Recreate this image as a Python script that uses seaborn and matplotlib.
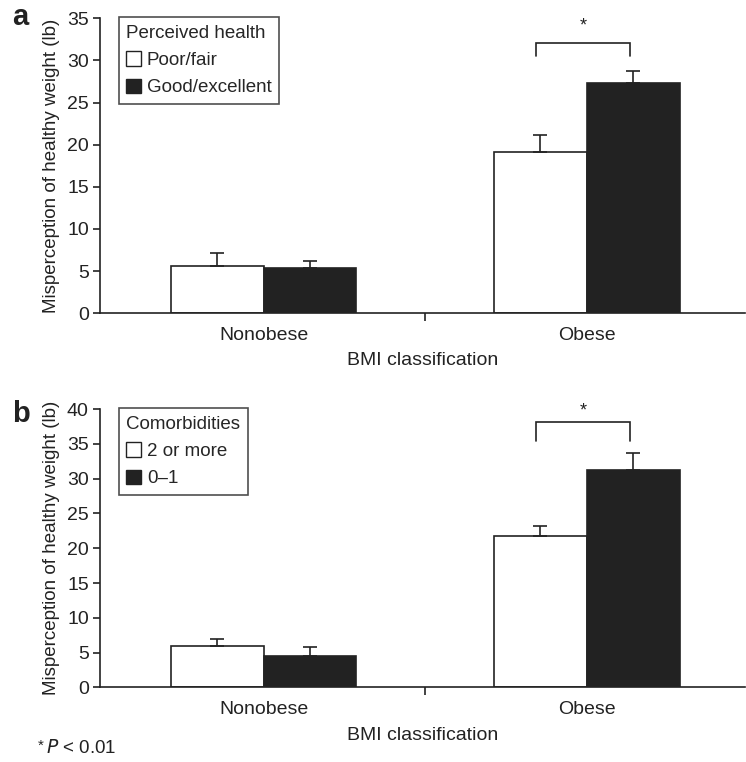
import matplotlib
matplotlib.use("Agg")
import matplotlib.pyplot as plt
import seaborn as sns
import pandas as pd
from matplotlib.ticker import FixedLocator

sns.set_style("white")
plt.rcParams['font.family'] = ['Liberation Sans', 'DejaVu Sans']

categories = ["Nonobese", "Obese"]

# Panel a
a_groups = ["Poor/fair", "Good/excellent"]
a_poor = [5.6, 19.1]
a_good = [5.4, 27.3]
a_poor_err = [1.6, 2.1]
a_good_err = [0.8, 1.5]

# Panel b
b_groups = ["2 or more", "0\u20131"]
b_two = [5.9, 21.8]
b_zero = [4.55, 31.3]
b_two_err = [1.0, 1.45]
b_zero_err = [1.25, 2.4]

INK = "#222222"
FS = 14
LFS = 13.5

fig = plt.figure(figsize=(7.46, 7.62), dpi=100)
ax_a = fig.add_axes([0.134, 0.589, 0.865, 0.387])
ax_b = fig.add_axes([0.134, 0.098, 0.865, 0.365])


def panel(ax, groups, v1, v2, e1, e2, ymax, ystep, legend_title, bracket, star_y):
    df = pd.DataFrame({
        "cat": categories * 2,
        "grp": [groups[0]] * 2 + [groups[1]] * 2,
        "val": list(v1) + list(v2),
    })
    sns.barplot(data=df, x="cat", y="val", hue="grp", order=categories,
                hue_order=groups, palette=["white", INK], edgecolor=INK,
                linewidth=1.2, width=0.575, errorbar=None, ax=ax, zorder=2)
    errs = list(e1) + list(e2)
    vals = list(v1) + list(v2)
    bars = ax.patches[:4]
    centers = []
    for p, v, e in zip(bars, vals, errs):
        cx = p.get_x() + p.get_width() / 2
        centers.append(cx)
        ax.errorbar(cx, v, yerr=[[0], [e]], fmt="none", ecolor=INK,
                    elinewidth=1.2, capsize=5, capthick=1.2, zorder=3)
    # significance bracket over Obese bars
    x1, x2 = centers[1] - 0.015, centers[3] - 0.01
    ytop, ybot = bracket
    ax.plot([x1, x1, x2, x2], [ybot, ytop, ytop, ybot], color=INK, lw=1.2,
            solid_joinstyle="miter", clip_on=False)
    ax.text((x1 + x2) / 2, star_y, "*", ha="center", va="center",
            fontsize=13, color=INK)

    ax.set_xlim(-0.506, 1.49)
    ax.set_ylim(0, ymax)
    ax.set_yticks(range(0, ymax + 1, ystep))
    ax.xaxis.set_minor_locator(FixedLocator([0.5]))
    ax.tick_params(axis="x", which="major", length=0, labelsize=FS, pad=10,
                   colors=INK)
    ax.tick_params(axis="x", which="minor", length=6, width=1.2, color=INK,
                   direction="out", bottom=True)
    ax.tick_params(axis="y", length=5, width=1.2, color=INK, direction="out",
                   left=True, labelsize=FS, labelcolor=INK, pad=3)
    sns.despine(ax=ax)
    for s in ("left", "bottom"):
        ax.spines[s].set_color(INK)
        ax.spines[s].set_linewidth(1.2)
    ax.set_xlabel("BMI classification", fontsize=FS, color=INK, labelpad=6)
    ax.set_ylabel("Misperception of healthy weight (lb)", fontsize=13.5,
                  color=INK, labelpad=5)

    handles, labels = ax.get_legend_handles_labels()
    leg = ax.legend(handles, labels, title=legend_title, loc="upper left",
                    bbox_to_anchor=(0.029, 1.004), frameon=True, fancybox=False,
                    edgecolor=INK, fontsize=LFS, title_fontsize=LFS,
                    handlelength=0.8, handleheight=0.8, handletextpad=0.3,
                    borderpad=0.4, labelspacing=0.52, borderaxespad=0)
    leg.get_frame().set_linewidth(1.2)
    leg._legend_box.align = "left"
    leg._legend_box.sep = 7
    for h in leg.legend_handles:
        h.set_edgecolor(INK)
        h.set_linewidth(1.0)


panel(ax_a, a_groups, a_poor, a_good, a_poor_err, a_good_err, 35, 5,
      "Perceived health", (32.1, 30.5), 34.1)
panel(ax_b, b_groups, b_two, b_zero, b_two_err, b_zero_err, 40, 5,
      "Comorbidities", (38.1, 35.4), 39.8)

fig.text(0.016, 0.967, "a", fontsize=21, fontweight="bold", color=INK,
         va="baseline", ha="left")
fig.text(0.016, 0.446, "b", fontsize=21, fontweight="bold", color=INK,
         va="baseline", ha="left")
fig.text(0.051, 0.021, "*", fontsize=11, color=INK, va="center", ha="left")
fig.text(0.061, 0.018, "$P$ < 0.01", fontsize=13.5, color=INK, va="center",
         ha="left")

fig.savefig("out.png", dpi=100)
